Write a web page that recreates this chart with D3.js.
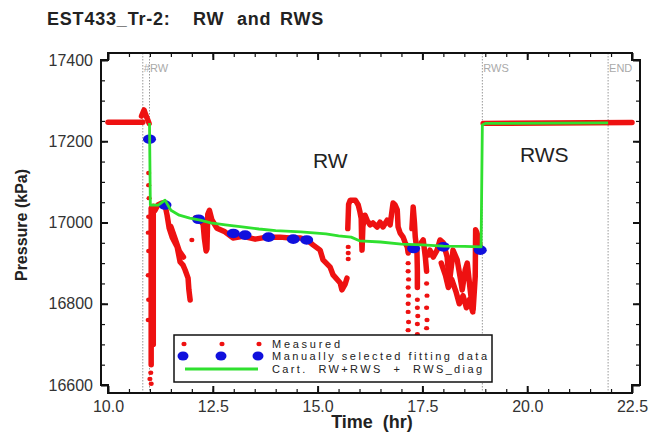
<!DOCTYPE html>
<html>
<head>
<meta charset="utf-8">
<script src="https://cdn.jsdelivr.net/npm/d3@7"></script>
<style>
  body { margin: 0; background: #fff; }
  text { font-family: "Liberation Sans", Arial, sans-serif; }
</style>
</head>
<body>
<div id="chart"></div>
<script>
// ---- data ----
var xTicks = [10.0, 12.5, 15.0, 17.5, 20.0, 22.5];
var yTicks = [16600, 16800, 17000, 17200, 17400];
var eventTimes = [10.83, 10.99, 18.93, 21.93];
var eventLabels = [{ t: 10.83, name: "#RW" }, { t: 18.93, name: "RWS" }, { t: 21.93, name: "END" }];

// dense stretches of the measured record (t hr, p kPa)
var measuredRuns = [
  [[10.0, 17247], [10.83, 17247]],
  [[10.8, 17262], [10.86, 17277], [10.9, 17265], [10.95, 17252], [10.98, 17244]],
  [[11.03, 17035], [11.03, 16650]],
  [[11.08, 17040], [11.08, 16700]],
  [[11.12, 17030], [11.19, 17043], [11.29, 17048], [11.36, 17043], [11.41, 17018], [11.46, 16986],
   [11.53, 16964], [11.65, 16940], [11.72, 16903], [11.79, 16895], [11.84, 16883], [11.91, 16863],
   [11.93, 16834], [11.96, 16809]],
  [[11.5, 16990], [11.6, 16960], [11.7, 16930], [11.8, 16915]],
  [[12.08, 17011], [12.2, 17006], [12.27, 16995], [12.3, 16960], [12.34, 16930], [12.36, 16935],
   [12.38, 17020], [12.42, 17030], [12.48, 17006], [12.6, 16986], [12.79, 16977], [12.98, 16962],
   [13.22, 16966], [13.51, 16959], [13.79, 16964], [14.1, 16964], [14.34, 16962], [14.58, 16962],
   [14.75, 16957], [14.89, 16945], [15.06, 16932], [15.13, 16908], [15.3, 16890], [15.37, 16871],
   [15.54, 16851], [15.58, 16834], [15.66, 16849], [15.7, 16863]],
  [[15.72, 16985], [15.74, 17045], [15.78, 17055], [15.9, 17055], [15.97, 17043], [16.01, 17026],
   [16.04, 17010], [16.05, 16960], [16.06, 16932], [16.08, 16990], [16.13, 17018], [16.18, 17006],
   [16.25, 16994], [16.32, 16999], [16.42, 16989], [16.49, 17001], [16.56, 16989], [16.66, 17006],
   [16.73, 16994], [16.8, 17048], [16.85, 17043], [16.9, 17031], [16.92, 16989], [16.97, 16974],
   [17.04, 16964], [17.09, 16950], [17.14, 16940], [17.16, 16925]],
  [[17.25, 16985], [17.28, 17038], [17.31, 17000], [17.33, 16964], [17.37, 16932], [17.38, 16880], [17.38, 16840]],
  [[17.47, 16950], [17.52, 16957], [17.57, 16915], [17.6, 16880]],
  [[17.65, 16920], [17.68, 16932], [17.76, 16915], [17.85, 16932], [17.92, 16957], [18.0, 16950],
   [18.09, 16915], [18.11, 16890], [18.16, 16866], [18.2, 16900], [18.23, 16932], [18.33, 16908],
   [18.4, 16866], [18.45, 16834], [18.52, 16883], [18.57, 16900], [18.64, 16834], [18.69, 16792],
   [18.71, 16785], [18.76, 16866], [18.77, 16982], [18.8, 16975], [18.83, 16964], [18.88, 16940]],
  [[17.95, 16900], [18.05, 16870], [18.12, 16840], [18.2, 16860], [18.3, 16830], [18.38, 16800],
   [18.47, 16820], [18.55, 16790], [18.62, 16810], [18.7, 16780]],
  [[18.95, 17244], [22.5, 17246]]
];

// scattered single measured points
var measuredDots = [
  [10.97, 17122], [10.97, 17092], [10.98, 17060], [10.97, 17014], [10.96, 16975], [10.97, 16930],
  [10.96, 16870], [10.97, 16810], [10.96, 16760],
  [11.02, 16630], [11.0, 16615], [11.03, 16603],
  [12.0, 16957],
  [15.73, 16940], [15.73, 16925], [15.73, 16910],
  [17.16, 16900], [17.16, 16880], [17.17, 16860], [17.16, 16840], [17.17, 16820], [17.16, 16800],
  [17.16, 16780], [17.17, 16755], [17.16, 16735], [17.16, 16710],
  [17.38, 16810], [17.38, 16790], [17.39, 16770], [17.38, 16750], [17.38, 16725],
  [17.6, 16850], [17.61, 16820], [17.6, 16790], [17.61, 16760], [17.6, 16740], [17.61, 16715]
];

// manually selected fitting data
var fittingData = [
  [10.99, 17205], [11.36, 17043], [12.16, 17008], [12.99, 16973], [13.27, 16969], [13.83, 16964],
  [14.42, 16959], [14.74, 16957], [17.29, 16936], [18.0, 16940], [18.88, 16932]
];

// Cart. RW+RWS + RWS_diag model
var modelLine = [
  [10.99, 17245], [11.01, 17043], [11.2, 17043], [11.36, 17055], [11.5, 17030], [11.7, 17018],
  [11.95, 17011], [12.2, 17006], [12.45, 16999], [12.8, 16994], [13.2, 16989], [13.6, 16984],
  [14.0, 16980], [14.6, 16977], [15.2, 16972], [15.5, 16967], [15.8, 16964], [16.0, 16955],
  [16.5, 16952], [17.0, 16947], [17.5, 16945], [18.0, 16942], [18.5, 16941], [18.9, 16940],
  [18.93, 17240], [19.0, 17244], [21.93, 17245]
];

var legendLabels = ["Measured", "Manually selected fitting data", "Cart.  RW+RWS  +  RWS_diag"];

var red = "#ee1111", blue = "#1010dd", green = "#2fe02f";

var svg = d3.select("#chart").append("svg")
    .attr("width", 652)
    .attr("height", 437);

svg.append("rect").attr("width", 652).attr("height", 437).attr("fill", "#fff");

var x = d3.scaleLinear().domain([10, 22.5]).range([108, 632]);
var y = d3.scaleLinear().domain([16600, 17400]).range([385, 60]);

var x0 = x(10), x1 = x(22.5), y0 = y(17400), y1 = y(16600);
var L = x0 - 7, R = x1 + 8, T = y0 - 7, B = y1 + 8;

// title
var title = svg.append("text")
    .attr("y", 25)
    .style("font-size", "18px")
    .style("font-weight", "bold")
    .style("letter-spacing", "0.8px")
    .attr("fill", "#222");
title.append("tspan").attr("x", 47).text("EST433_Tr-2:");
title.append("tspan").attr("x", 193).text("RW");
title.append("tspan").attr("x", 237).text("and");
title.append("tspan").attr("x", 280).text("RWS");

// event lines
svg.selectAll(".event")
    .data(eventTimes)
    .enter().append("line")
    .attr("class", "event")
    .attr("x1", function(d) { return x(d); })
    .attr("x2", function(d) { return x(d); })
    .attr("y1", T)
    .attr("y2", B)
    .attr("stroke", "#999")
    .attr("stroke-width", 1)
    .attr("stroke-dasharray", "1.5,1.5");

svg.selectAll(".event-label")
    .data(eventLabels)
    .enter().append("text")
    .attr("class", "event-label")
    .attr("x", function(d) { return x(d.t) + 1; })
    .attr("y", 72)
    .style("font-size", "11px")
    .attr("fill", "#aaa")
    .text(function(d) { return d.name; });

// region labels
svg.append("text").attr("x", 313).attr("y", 168).style("font-size", "21px").attr("fill", "#222").text("RW");
svg.append("text").attr("x", 520).attr("y", 162).style("font-size", "21px").attr("fill", "#222").text("RWS");

// measured
var line = d3.line()
    .x(function(d) { return x(d[0]); })
    .y(function(d) { return y(d[1]); });

svg.selectAll(".run")
    .data(measuredRuns)
    .enter().append("path")
    .attr("class", "run")
    .attr("d", line)
    .attr("fill", "none")
    .attr("stroke", red)
    .attr("stroke-width", 5.5)
    .attr("stroke-linejoin", "round")
    .attr("stroke-linecap", "round");

svg.selectAll(".dot")
    .data(measuredDots)
    .enter().append("ellipse")
    .attr("class", "dot")
    .attr("cx", function(d) { return x(d[0]); })
    .attr("cy", function(d) { return y(d[1]); })
    .attr("rx", 2.6)
    .attr("ry", 2.2)
    .attr("fill", red);

// fitting data
svg.selectAll(".fit")
    .data(fittingData)
    .enter().append("ellipse")
    .attr("class", "fit")
    .attr("cx", function(d) { return x(d[0]); })
    .attr("cy", function(d) { return y(d[1]); })
    .attr("rx", 6.5)
    .attr("ry", 4.8)
    .attr("fill", blue);

// model
svg.append("path")
    .datum(modelLine)
    .attr("d", line)
    .attr("fill", "none")
    .attr("stroke", green)
    .attr("stroke-width", 2.8)
    .attr("stroke-linejoin", "round");

// frame with stepped corners
svg.append("path")
    .attr("d", "M" + L + "," + y0 + "H" + x0 + "V" + T + "H" + x1 + "V" + y0 + "H" + R +
               "V" + y1 + "H" + x1 + "V" + B + "H" + x0 + "V" + y1 + "H" + L + "Z")
    .attr("fill", "none")
    .attr("stroke", "#111")
    .attr("stroke-width", 2);

function ticks(axis, tx, ty, values, size, width) {
    svg.append("g")
        .attr("transform", "translate(" + tx + "," + ty + ")")
        .call(axis.tickValues(values).tickSize(size).tickFormat(""))
        .call(function(g) { g.select(".domain").remove(); })
        .selectAll("line").attr("stroke", "#111").attr("stroke-width", width);
}

var xMinor = d3.range(10, 22.51, 0.5);
var yMinor = d3.range(16600, 17401, 50);

ticks(d3.axisTop(x), 0, B, xMinor, 4, 1.2);
ticks(d3.axisTop(x), 0, B, xTicks, 7, 2);
ticks(d3.axisBottom(x), 0, T, xMinor, 4, 1.2);
ticks(d3.axisBottom(x), 0, T, xTicks, 7, 2);
ticks(d3.axisRight(y), L, 0, yMinor, 4, 1.2);
ticks(d3.axisRight(y), L, 0, yTicks, 7, 2);
ticks(d3.axisLeft(y), R, 0, yMinor, 4, 1.2);
ticks(d3.axisLeft(y), R, 0, yTicks, 7, 2);

// tick labels
svg.append("g")
    .attr("transform", "translate(0," + B + ")")
    .call(d3.axisBottom(x).tickValues(xTicks).tickSize(0).tickPadding(8).tickFormat(d3.format(".1f")))
    .call(function(g) { g.select(".domain").remove(); })
    .selectAll("text")
    .style("font-size", "16px")
    .style("font-family", "'Liberation Sans', Arial, sans-serif")
    .attr("fill", "#333");

svg.append("g")
    .attr("transform", "translate(" + L + ",0)")
    .call(d3.axisLeft(y).tickValues(yTicks).tickSize(0).tickPadding(8).tickFormat(d3.format("d")))
    .call(function(g) { g.select(".domain").remove(); })
    .selectAll("text")
    .style("font-size", "16px")
    .style("font-family", "'Liberation Sans', Arial, sans-serif")
    .attr("fill", "#333");

// axis titles
svg.append("text")
    .attr("x", 372)
    .attr("y", 428)
    .attr("text-anchor", "middle")
    .style("font-size", "18px")
    .style("font-weight", "bold")
    .attr("fill", "#222")
    .style("white-space", "pre")
    .text("Time  (hr)");

svg.append("text")
    .attr("transform", "translate(27,225) rotate(-90)")
    .attr("text-anchor", "middle")
    .style("font-size", "16px")
    .style("font-weight", "bold")
    .attr("fill", "#222")
    .text("Pressure (kPa)");

// legend
var lg = svg.append("g");
lg.append("rect")
    .attr("x", 174).attr("y", 335)
    .attr("width", 318).attr("height", 47)
    .attr("fill", "#fff")
    .attr("stroke", "#111")
    .attr("stroke-width", 1.5);

var rowY = [344, 356, 369];
var symX = [184, 222, 259];

lg.selectAll(".lg-red").data(symX).enter().append("ellipse")
    .attr("cx", function(d) { return d; }).attr("cy", rowY[0])
    .attr("rx", 2.6).attr("ry", 2.2).attr("fill", red);
lg.selectAll(".lg-blue").data(symX).enter().append("ellipse")
    .attr("cx", function(d) { return d - 1; }).attr("cy", rowY[1])
    .attr("rx", 5.5).attr("ry", 4.6).attr("fill", blue);
lg.append("line")
    .attr("x1", 185).attr("x2", 258)
    .attr("y1", rowY[2]).attr("y2", rowY[2])
    .attr("stroke", green).attr("stroke-width", 3);

var textLen = [68, 215, 210];
lg.selectAll(".lg-text").data(legendLabels).enter().append("text")
    .attr("x", 272)
    .attr("y", function(d, i) { return rowY[i] + 4; })
    .attr("textLength", function(d, i) { return textLen[i]; })
    .attr("lengthAdjust", "spacing")
    .style("font-size", "11px")
    .style("white-space", "pre")
    .attr("fill", "#222")
    .text(function(d) { return d; });
</script>
</body>
</html>
